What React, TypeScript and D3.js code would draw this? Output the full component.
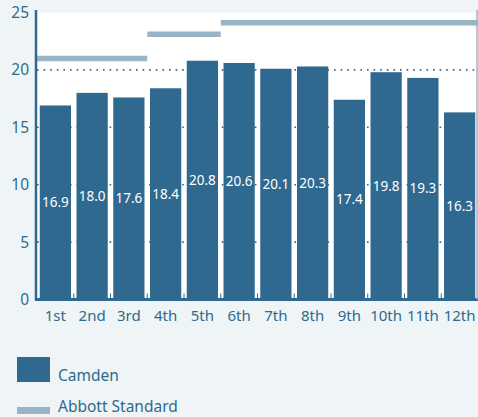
import React from "react";
import * as d3 from "d3";

const categories = ["1st", "2nd", "3rd", "4th", "5th", "6th", "7th", "8th", "9th", "10th", "11th", "12th"];
const camden = [16.9, 18.0, 17.6, 18.4, 20.8, 20.6, 20.1, 20.3, 17.4, 19.8, 19.3, 16.3];
const abbott = [21.0, 21.0, 21.0, 23.1, 23.1, 24.1, 24.1, 24.1, 24.1, 24.1, 24.1, 24.1];
const yTicks = [0, 5, 10, 15, 20, 25];
const gridTicks = [5, 10, 15, 20];

const W = 478;
const H = 417;
const BG = "#eff5f6";
const BAR = "#2f6990";
const TXT = "#2e6a8e";
const STEP = "#9ab4c7";
const FONT = "'Noto Sans', 'Open Sans', sans-serif";

export default function App() {
  const left = 37;
  const right = 478;
  const x = d3.scaleBand<string>().domain(categories).range([left, right]).paddingInner(0.15).paddingOuter(0.075);
  const y = d3.scaleLinear().domain([0, 25]).range([299.5, 12.5]);
  const step = x.step();

  const segs: { v: number; x0: number; x1: number }[] = [];
  abbott.forEach((v, i) => {
    const c = categories[i];
    const bx = (x(c) as number) - (step - x.bandwidth()) / 2;
    const x0 = i === 0 ? left : bx;
    const x1 = i === categories.length - 1 ? right : bx + step;
    const last = segs[segs.length - 1];
    if (last && last.v === v) last.x1 = x1;
    else segs.push({ v, x0, x1 });
  });

  return (
    <svg width={W} height={H} style={{ position: "absolute", left: 0, top: 0, background: BG }} fontFamily={FONT}>
      <rect x={0} y={0} width={W} height={H} fill={BG} />
      <rect x={left} y={y(25)} width={right - left} height={y(0) - y(25)} fill="#ffffff" />
      {gridTicks.map((t) => (
        <line key={t} x1={left} x2={right} y1={y(t)} y2={y(t)} stroke={BAR} strokeWidth={1.6} strokeDasharray="1.6,5" />
      ))}
      {categories.map((c, i) => (
        <rect key={c} x={x(c)} y={y(camden[i])} width={x.bandwidth()} height={y(0) - y(camden[i])} fill={BAR} />
      ))}
      {segs.map((s, i) => (
        <line key={i} x1={s.x0} x2={s.x1} y1={y(s.v)} y2={y(s.v)} stroke={STEP} strokeWidth={5.5} />
      ))}
      {categories.map((c, i) => (
        <text
          key={c}
          x={(x(c) as number) + x.bandwidth() / 2}
          y={(y(camden[i]) + y(0)) / 2}
          dy="0.35em"
          textAnchor="middle"
          fill="#ffffff"
          fontSize={13.5}
        >
          {camden[i].toFixed(1)}
        </text>
      ))}
      {categories.slice(1).map((c) => {
        const gx = (x(c) as number) - (step - x.bandwidth()) / 2;
        return <line key={c} x1={gx} x2={gx} y1={y(0) - 6} y2={y(0)} stroke={BAR} strokeWidth={1} />;
      })}
      <line x1={left - 2} x2={right} y1={y(0)} y2={y(0)} stroke={BAR} strokeWidth={3} />
      <line x1={left - 1} x2={left - 1} y1={10} y2={y(0) + 1} stroke={BAR} strokeWidth={2.5} />
      <line x1={477} x2={477} y1={10} y2={y(0)} stroke={STEP} strokeWidth={1.5} />
      {yTicks.map((t) => (
        <text key={t} x={29} y={y(t)} dy="0.35em" textAnchor="end" fill={TXT} fontSize={15.5}>
          {t}
        </text>
      ))}
      {categories.map((c) => (
        <text key={c} x={(x(c) as number) + x.bandwidth() / 2} y={321} textAnchor="middle" fill={TXT} fontSize={15}>
          {c}
        </text>
      ))}
      <rect x={17} y={357} width={33} height={25} fill={BAR} />
      <text x={58} y={381} fill={TXT} fontSize={15.5}>Camden</text>
      <rect x={17} y={407} width={33} height={7} fill={STEP} />
      <text x={58} y={412} fill={TXT} fontSize={15.5}>Abbott Standard</text>
    </svg>
  );
}
